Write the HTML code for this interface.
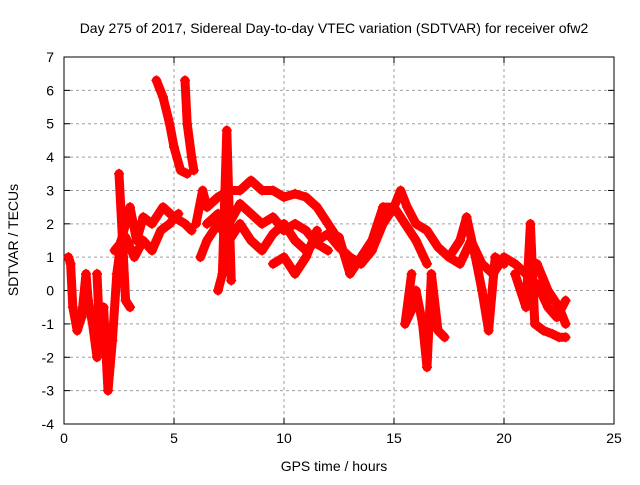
<!DOCTYPE html>
<html><head><meta charset="utf-8"><style>
body{margin:0;background:#fff}
svg text{font-family:"Liberation Sans",sans-serif;font-size:14px;fill:#000}
</style></head><body>
<svg id="chart" width="640" height="480" xmlns="http://www.w3.org/2000/svg">
<rect width="640" height="480" fill="#fff"/>
<text x="334" y="33" text-anchor="middle">Day 275 of 2017, Sidereal Day-to-day VTEC variation (SDTVAR) for receiver ofw2</text>
<g id="grid"></g>
<g id="axes"></g>
<g id="marks"></g>
<text x="334" y="471" text-anchor="middle">GPS time / hours</text>
<text transform="translate(18,240) rotate(-90)" text-anchor="middle">SDTVAR / TECUs</text>
</svg>
<script>
const xTicks=[0,5,10,15,20,25];
const yTicks=[-4,-3,-2,-1,0,1,2,3,4,5,6,7];
const trackA=[[0.2,1.0],[0.3,0.8],[0.4,-0.5],[0.6,-1.2],[0.8,-0.8],[1.0,0.5],[1.1,-0.3],[1.3,-1.0],[1.5,-2.0],[1.6,-1.0],[1.5,0.5]];
const trackB=[[1.8,-0.5],[2.0,-3.0],[2.2,-1.5],[2.4,0.5],[2.6,1.5],[2.8,2.0],[3.0,2.5],[3.3,1.5],[3.6,2.2],[4.0,2.0],[4.5,2.5],[5.0,2.2],[5.5,2.0],[5.8,1.8]];
const trackB2=[[2.3,1.2],[2.8,1.6],[3.2,1.0],[3.6,1.5],[4.0,1.2],[4.4,1.8],[4.8,2.0],[5.2,2.3]];
const trackC=[[2.5,3.5],[2.7,1.0],[2.8,-0.3],[3.0,-0.5]];
const trackD=[[4.2,6.3],[4.5,5.8],[4.8,5.0],[5.0,4.3],[5.3,3.6],[5.6,3.5]];
const trackE=[[5.5,6.3],[5.6,5.0],[5.8,4.0],[5.9,3.6]];
const trackF=[[6.0,2.0],[6.3,3.0],[6.5,2.5],[7.0,2.8],[7.5,3.0],[8.0,3.0],[8.5,3.3],[9.0,3.0],[9.5,3.0],[10,2.8],[10.5,2.9],[11,2.8],[11.5,2.5],[12,2.0],[12.5,1.5]];
const trackF2=[[6.5,2.0],[7.0,2.3],[7.5,2.0],[8.0,2.6],[8.5,2.3],[9.0,2.0],[9.5,2.2],[10,1.8],[10.5,2.0],[11,1.8],[11.5,1.4],[12,1.2]];
const trackG=[[6.2,1.0],[6.5,1.5],[7,2.0],[7.5,1.5],[8,2.0],[8.5,1.5],[9,1.2],[9.5,1.7],[10,2.0],[10.5,1.5],[11,1.2],[11.5,1.5],[12,1.7],[12.5,1.3],[13,1.0],[13.5,0.8],[14,1.2],[14.5,2.0],[15,2.5],[15.5,2.0],[16,1.5],[16.5,0.8]];
const trackH=[[9.5,0.8],[10,1.0],[10.5,0.5],[11,1.0],[11.5,1.8]];
const trackI=[[12.5,1.6],[13,0.5],[13.5,1.0],[14,1.5],[14.5,2.5],[15,2.5],[15.3,3.0],[15.6,2.5],[16,2.0],[16.5,1.8],[17,1.3],[17.5,1.0],[18,0.8],[18.5,1.5],[19,0.8],[19.5,0.5],[20,1.0],[20.5,0.8],[21,0.5],[21.5,0.8],[22,0.0],[22.5,-0.5],[22.8,-1.0]];
const trackJ=[[16,0],[16.3,-1.0],[16.5,-2.3],[16.7,0.5],[17,-1.2],[17.3,-1.4]];
const trackK=[[17.5,1.0],[18,1.5],[18.3,2.2],[18.7,1.0],[19.0,0],[19.3,-1.2],[19.6,1.0],[20,0.8]];
const trackL=[[20.5,0.5],[21,-0.5],[21.2,2.0],[21.4,-1.0],[21.8,-1.2],[22.2,-1.3],[22.5,-1.4],[22.8,-1.4]];
const trackL2=[[21.0,-0.2],[21.5,0.2],[22.0,-0.5],[22.4,-0.8],[22.8,-0.3]];
const trackM=[[7.0,0.0],[7.2,0.5],[7.4,4.8],[7.6,0.3]];
const trackN=[[15.8,0.5],[15.5,-1.0],[16.0,-0.3]];
const tracks=[trackA,trackB,trackB2,trackC,trackD,trackE,trackF,trackF2,trackG,trackH,trackI,trackJ,trackK,trackL,trackL2,trackM,trackN];

const L=64,R=614,T=57,B=424;
const xs=v=>L+(v-0)/25*(R-L);
const ys=v=>B-(v+4)/11*(B-T);
const NS='http://www.w3.org/2000/svg';
function mk(tag,parent,attrs){const e=document.createElementNS(NS,tag);for(const k in attrs)e.setAttribute(k,attrs[k]);parent.appendChild(e);return e;}
const grid=document.getElementById('grid'),axes=document.getElementById('axes'),marks=document.getElementById('marks');
xTicks.forEach(t=>{
  const x=xs(t);
  if(t>0&&t<25){const g=mk('line',grid,{x1:x,x2:x,y1:T,y2:B,stroke:'#a0a0a0','stroke-dasharray':'3,3'});
  
  }
  const tx=mk('text',axes,{x:x,y:B+19,'text-anchor':'middle'});tx.textContent=t;
  
  
  mk('line',axes,{x1:x,x2:x,y1:B,y2:B-6,stroke:'#000'});
  mk('line',axes,{x1:x,x2:x,y1:T,y2:T+6,stroke:'#000'});
});
yTicks.forEach(t=>{
  const y=ys(t);
  if(t>-4&&t<7){const g=mk('line',grid,{x1:L,x2:R,y1:y,y2:y,stroke:'#a0a0a0','stroke-dasharray':'3,3'});
  
  }
  const tx=mk('text',axes,{x:L-10,y:y+5,'text-anchor':'end'});tx.textContent=t;
  
  
  mk('line',axes,{x1:L,x2:L+6,y1:y,y2:y,stroke:'#000'});
  mk('line',axes,{x1:R,x2:R-6,y1:y,y2:y,stroke:'#000'});
});
mk('rect',axes,{x:L,y:T,width:R-L,height:B-T,fill:'none',stroke:'#000'});
tracks.forEach(tr=>{
  const p=mk('polyline',marks,{points:tr.map(d=>xs(d[0])+','+ys(d[1])).join(' '),fill:'none',stroke:'#f00','stroke-width':9,'stroke-linejoin':'round','stroke-linecap':'round'});
  
  
  tr.forEach(d=>{
    const x=xs(d[0]),y=ys(d[1]);
    const m=mk('path',marks,{d:`M${x-5},${y}H${x+5}M${x},${y-5}V${y+5}`,stroke:'#f00','stroke-width':1.5});
    
    
  });
});
</script>
</body></html>
